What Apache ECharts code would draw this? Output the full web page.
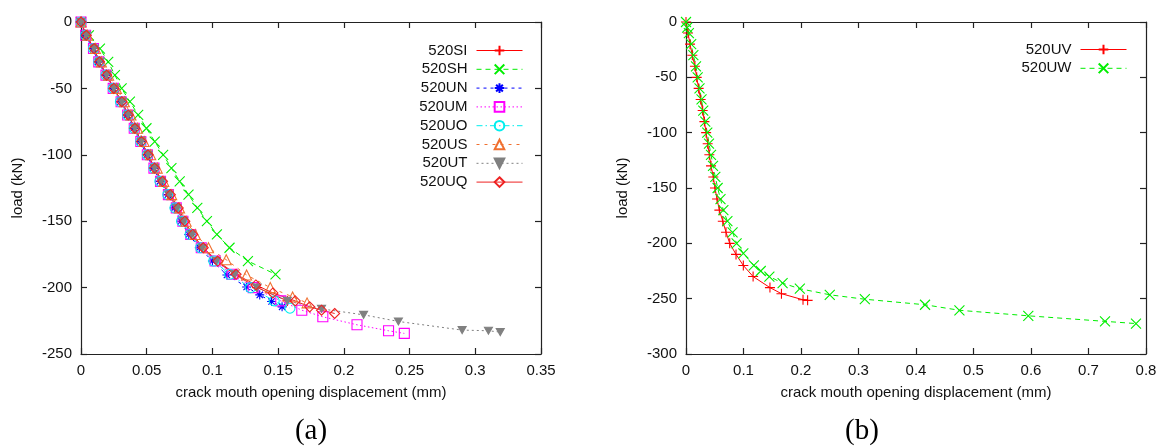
<!DOCTYPE html>
<html><head><meta charset="utf-8">
<script src="https://cdn.jsdelivr.net/npm/echarts@6/dist/echarts.min.js"></script>
<style>html,body{margin:0;padding:0;background:#fff}#c{width:1161px;height:448px}</style>
</head><body><div id="c"></div>
<script>
// ---------- data: [crack mouth opening displacement (mm), load (kN)] ----------
const s520SI = [[0,0],[0.004,-10],[0.010,-20],[0.014,-30],[0.0195,-40],[0.025,-50],[0.031,-60],[0.036,-70],[0.041,-80],[0.046,-90],[0.051,-100],[0.056,-110],[0.061,-120],[0.067,-130],[0.073,-140],[0.078,-150],[0.084,-160],[0.092,-170],[0.103,-180],[0.117,-190],[0.134,-200],[0.157,-210]];
const s520SH = [[0,0],[0.006,-10],[0.0144,-20],[0.0207,-30],[0.0258,-40],[0.0309,-50],[0.0372,-60],[0.0435,-70],[0.0498,-80],[0.0561,-90],[0.0625,-100],[0.0688,-110],[0.0751,-120],[0.0818,-130],[0.0885,-140],[0.0958,-150],[0.1034,-160],[0.113,-170],[0.127,-180],[0.148,-190]];
const s520UN = [[0,0],[0.003,-10],[0.009,-20],[0.013,-30],[0.019,-40],[0.024,-50],[0.030,-60],[0.035,-70],[0.040,-80],[0.045,-90],[0.050,-100],[0.055,-110],[0.060,-120],[0.066,-130],[0.071,-140],[0.076,-150],[0.082,-160],[0.090,-170],[0.100,-180],[0.111,-190.5],[0.126,-199.5],[0.136,-205.5],[0.145,-210.5],[0.153,-214.5]];
const s520UM = [[0,0],[0.0035,-10],[0.0095,-20],[0.0135,-30],[0.019,-40],[0.0245,-50],[0.0305,-60],[0.0355,-70],[0.0405,-80],[0.0455,-90],[0.0505,-100],[0.0555,-110],[0.0605,-120],[0.0665,-130],[0.0725,-140],[0.0775,-150],[0.0835,-160],[0.0915,-170],[0.102,-180],[0.115,-190],[0.131,-200],[0.152,-210],[0.168,-217],[0.184,-222],[0.210,-228],[0.234,-232.5],[0.246,-234.5]];
const s520UO = [[0,0],[0.0035,-10],[0.0095,-20],[0.0135,-30],[0.019,-40],[0.0245,-50],[0.030,-60],[0.0355,-70],[0.0405,-80],[0.0455,-90],[0.0505,-100],[0.0555,-110],[0.060,-120],[0.066,-130],[0.0715,-140],[0.0765,-150],[0.083,-160],[0.091,-170],[0.101,-180],[0.113,-190],[0.129,-200],[0.147,-210],[0.159,-215.5]];
const s520US = [[0,0],[0.005,-10],[0.011,-20],[0.0155,-30],[0.021,-40],[0.027,-50],[0.033,-60],[0.038,-70],[0.043,-80],[0.048,-90],[0.053,-100],[0.058,-110],[0.063,-120],[0.069,-130],[0.075,-140],[0.080,-150],[0.087,-160],[0.097,-170],[0.1105,-179],[0.126,-190.5],[0.144,-200],[0.161,-207],[0.172,-211.5]];
const s520UT = [[0,0],[0.004,-10],[0.010,-20],[0.014,-30],[0.0195,-40],[0.025,-50],[0.031,-60],[0.036,-70],[0.041,-80],[0.046,-90],[0.051,-100],[0.056,-110],[0.061,-120],[0.067,-130],[0.073,-140],[0.078,-150],[0.084,-160],[0.092,-170],[0.103,-180],[0.117,-190],[0.134,-200],[0.157,-210],[0.183,-216],[0.215,-220.5],[0.2415,-225.5],[0.290,-232],[0.310,-232.5],[0.319,-233.5]];
const s520UQ = [[0,0],[0.004,-10],[0.010,-20],[0.014,-30],[0.0195,-40],[0.025,-50],[0.031,-60],[0.036,-70],[0.041,-80],[0.046,-90],[0.051,-100],[0.056,-110],[0.062,-120],[0.068,-130],[0.074,-140],[0.079,-150],[0.085,-160],[0.093,-170],[0.104,-180],[0.118,-190],[0.133,-198],[0.146,-204],[0.163,-210],[0.174,-214.5],[0.183,-217],[0.193,-219.5]];
const s520UV = [[0,0],[0.0035,-10],[0.007,-20],[0.011,-30],[0.0155,-40],[0.0186,-50],[0.022,-60],[0.0255,-70],[0.029,-80],[0.032,-90],[0.035,-100],[0.0377,-110],[0.0406,-120],[0.0435,-130],[0.0475,-140],[0.0504,-150],[0.054,-160],[0.058,-170],[0.064,-180],[0.0696,-190],[0.076,-200],[0.087,-210],[0.0997,-220],[0.1167,-230],[0.146,-240],[0.166,-245.5],[0.2035,-251],[0.2115,-251.5]];
const s520UW = [[0,0],[0.002,-5],[0.005,-10],[0.009,-20],[0.0128,-30],[0.0174,-40],[0.0203,-50],[0.0235,-60],[0.027,-70],[0.030,-80],[0.0335,-90],[0.037,-100],[0.040,-110],[0.0435,-120],[0.047,-130],[0.051,-140],[0.055,-150],[0.060,-160],[0.065,-170],[0.072,-180],[0.081,-190],[0.088,-200],[0.0997,-209],[0.118,-220],[0.130,-225],[0.145,-230],[0.168,-236],[0.198,-241],[0.250,-246.5],[0.311,-250.5],[0.4157,-255.5],[0.4755,-260.5],[0.5953,-265.5],[0.7287,-270.5],[0.7826,-272.5]];

const namesA = ['520SI','520SH','520UN','520UM','520UO','520US','520UT','520UQ'];
const namesB = ['520UV','520UW'];
const xTicksA = {min: 0, max: 0.35, step: 0.05};
const yTicksA = {min: -250, max: 0, step: 50};
const xTicksB = {min: 0, max: 0.8, step: 0.1};
const yTicksB = {min: -300, max: 0, step: 50};
const xTitle = 'crack mouth opening displacement (mm)';
const yTitle = 'load (kN)';
const captions = ['(a)', '(b)'];

// ---------- styles ----------
const PLUS = 'path://M0,5L10,5M5,0L5,10';
const CROSS = 'path://M0,0L10,10M0,10L10,0';
const STAR = 'path://M0,5L10,5M5,0L5,10M1.5,1.5L8.5,8.5M1.5,8.5L8.5,1.5';
const DTRI = 'path://M0,0L10,0L5,8.66Z';
const NONE = 'rgba(0,0,0,0)';
const FONT = 'Liberation Sans';

function mk(name, data, g, color, dash, symbol, size, fill) {
  return {
    name: name, type: 'line', data: data,
    xAxisIndex: g * 2, yAxisIndex: g * 2,
    symbol: symbol, symbolSize: size, showAllSymbol: true,
    symbolKeepAspect: true,
    lineStyle: {color: color, width: 1, type: dash},
    itemStyle: {color: fill, borderColor: color, borderWidth: 1.1},
    emphasis: {disabled: true}, animation: false
  };
}

const series = [
  mk('520SI', s520SI, 0, '#ff0000', 'solid', PLUS, 10, '#ff0000'),
  mk('520SH', s520SH, 0, '#00ee00', [5, 4], CROSS, 10, '#00ee00'),
  mk('520UN', s520UN, 0, '#0000ff', [3, 4], STAR, 9, '#0000ff'),
  mk('520UM', s520UM, 0, '#ff00ff', [1.5, 2.5], 'rect', 10, NONE),
  mk('520UO', s520UO, 0, '#00eeee', [6, 3, 1.5, 3], 'circle', 10, NONE),
  mk('520US', s520US, 0, '#f07030', [3, 5], 'triangle', 10, NONE),
  mk('520UT', s520UT, 0, '#808080', [2, 3], DTRI, 8, '#808080'),
  mk('520UQ', s520UQ, 0, '#ee2222', 'solid', 'diamond', 10, NONE),
  mk('520UV', s520UV, 1, '#ff0000', 'solid', PLUS, 10, '#ff0000'),
  mk('520UW', s520UW, 1, '#00ee00', [5, 4], CROSS, 10, '#00ee00')
];

const axisLine = {show: true, onZero: false, lineStyle: {color: '#222', width: 1.2}};
const tick = {show: true, inside: true, length: 6, lineStyle: {color: '#222', width: 1.2}};
const lbl = {color: '#111', fontSize: 15, fontFamily: FONT};

function xAxes(g, t) {
  return [
    {gridIndex: g, type: 'value', position: 'bottom', min: t.min, max: t.max, interval: t.step,
     axisLine: axisLine, axisTick: tick, splitLine: {show: false},
     axisLabel: Object.assign({margin: 9}, lbl),
     name: xTitle, nameLocation: 'middle', nameGap: 31, nameTextStyle: lbl},
    {gridIndex: g, type: 'value', position: 'top', min: t.min, max: t.max, interval: t.step,
     axisLine: axisLine, axisTick: tick, splitLine: {show: false}, axisLabel: {show: false}}
  ];
}
function yAxes(g, t) {
  return [
    {gridIndex: g, type: 'value', position: 'left', min: t.min, max: t.max, interval: t.step,
     axisLine: axisLine, axisTick: tick, splitLine: {show: false},
     axisLabel: Object.assign({margin: 9}, lbl),
     name: yTitle, nameLocation: 'middle', nameRotate: 90, nameGap: 56, nameTextStyle: lbl},
    {gridIndex: g, type: 'value', position: 'right', min: t.min, max: t.max, interval: t.step,
     axisLine: axisLine, axisTick: tick, splitLine: {show: false}, axisLabel: {show: false}}
  ];
}

const legendBase = {
  orient: 'vertical', align: 'right', padding: 0,
  itemWidth: 46, itemHeight: 12, itemGap: 3.8,
  lineStyle: {width: 1},
  textStyle: {color: '#111', fontSize: 15, fontFamily: FONT, lineHeight: 14, padding: [0, 4, 0, 0]},
  selectedMode: false
};

const option = {
  backgroundColor: '#fff',
  animation: false,
  grid: [
    {left: 81, top: 22, width: 460, height: 332},
    {left: 686, top: 22, width: 460, height: 332}
  ],
  xAxis: xAxes(0, xTicksA).concat(xAxes(1, xTicksB)),
  yAxis: yAxes(0, yTicksA).concat(yAxes(1, yTicksB)),
  legend: [
    Object.assign({}, legendBase, {data: namesA, right: 1161 - 523, top: 43}),
    Object.assign({}, legendBase, {data: namesB, right: 1161 - 1127, top: 42})
  ],
  graphic: [
    {type: 'text', x: 311, y: 431, style: {text: captions[0], font: '29px "Liberation Serif"', fill: '#000', textAlign: 'center', textVerticalAlign: 'middle'}},
    {type: 'text', x: 862, y: 431, style: {text: captions[1], font: '29px "Liberation Serif"', fill: '#000', textAlign: 'center', textVerticalAlign: 'middle'}}
  ],
  series: series
};

const chart = echarts.init(document.getElementById('c'), null, {renderer: 'canvas'});
chart.setOption(option);
</script></body></html>
